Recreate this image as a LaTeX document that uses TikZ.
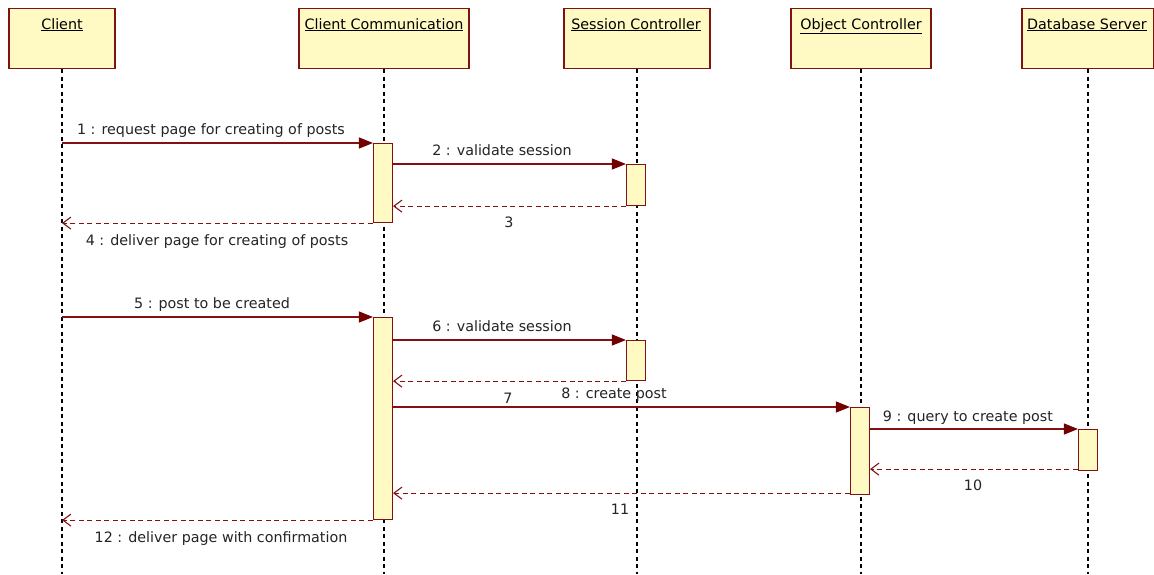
\documentclass[tikz,border=0pt]{standalone}
\usepackage{fontspec}
\setmainfont{DejaVu Sans}
\usetikzlibrary{arrows.meta}
\definecolor{maroon}{RGB}{128,18,18}
\definecolor{tipred}{RGB}{115,0,0}
\definecolor{boxfill}{RGB}{255,250,196}
\definecolor{txt}{RGB}{35,35,35}
\tikzset{
  head/.style={draw=maroon, fill=boxfill, line width=1.2pt, minimum height=60, anchor=north, inner sep=0},
  headtxt/.style={text=black, inner sep=0, anchor=base},
  lifeline/.style={black, line width=1.4pt, dash pattern=on 4pt off 3.5pt},
  act/.style={draw=maroon, fill=boxfill, line width=1.1pt, minimum width=19, anchor=north, inner sep=0},
  call/.style={maroon, line width=1.1pt, -{Triangle[length=14pt,width=11pt,color=tipred]}},
  ret/.style={maroon, line width=1.1pt, dash pattern=on 5pt off 3.5pt, -{Straight Barb[length=8pt,width=12pt]}},
  lbl/.style={text=txt, inner sep=0, anchor=base},
}
\begin{document}
\begin{tikzpicture}[x=1pt,y=-1pt, font=\fontsize{14.3}{17}\selectfont]
\useasboundingbox (0,0) rectangle (1154,574);
% heads
\node[head, minimum width=106] (client) at (62,8) {};
\node[head, minimum width=170] (cc) at (384,8) {};
\node[head, minimum width=146] (sc) at (637,8) {};
\node[head, minimum width=140] (oc) at (861,8) {};
\node[head, minimum width=132] (db) at (1088,8) {};
\node[headtxt] (clientT) at (62,29) {\underline{Client}};
\node[headtxt] (ccT) at (384,29) {\underline{Client Communication}};
\node[headtxt] (scT) at (636,29) {\underline{Session Controller}};
\node[headtxt] (ocT) at (861,29) {\underline{Object Controller}};
\node[headtxt] (dbT) at (1087,29) {\underline{Database Server}};
% lifeline ends
\coordinate (clientE) at (62,574);
\coordinate (ccE) at (384,574);
\coordinate (scE) at (637,574);
\coordinate (ocE) at (861,574);
\coordinate (dbE) at (1088,574);
\draw[lifeline] (client.south) -- (clientE);
\draw[lifeline] (cc.south) -- (ccE);
\draw[lifeline] (sc.south) -- (scE);
\draw[lifeline] (oc.south) -- (ocE);
\draw[lifeline] (db.south) -- (dbE);
% activations
\node[act, minimum height=79] (a1) at (383,143) {};
\node[act, minimum height=41] (s1) at (636,164) {};
\node[act, minimum height=202] (a2) at (383,317) {};
\node[act, minimum height=40] (s2) at (636,340) {};
\node[act, minimum height=87] (o1) at (860,407) {};
\node[act, minimum height=41] (d1) at (1088,429) {};
% client-side coordinates
\coordinate (c1) at (a1.north west -| clientE);
\coordinate (c4) at (a1.south west -| clientE);
\coordinate (c5) at (a2.north west -| clientE);
\coordinate (c12) at (a2.south west -| clientE);
\coordinate (r10) at ([yshift=2pt]d1.south west);
\coordinate (r11) at ([yshift=2pt]o1.south west);
% messages
\draw[call] (c1) -- (a1.north west);
\draw[call] (a1.east |- s1.north) -- (s1.north west);
\draw[ret] (s1.south west) -- (a1.east |- s1.south);
\draw[ret] (a1.south west) -- (c4);
\draw[call] (c5) -- (a2.north west);
\draw[call] (a2.east |- s2.north) -- (s2.north west);
\draw[ret] (s2.south west) -- (a2.east |- s2.south);
\draw[call] (a2.east |- o1.north) -- (o1.north west);
\draw[call] (o1.east |- d1.north) -- (d1.north west);
\draw[ret] (r10) -- (o1.east |- r10);
\draw[ret] (r11) -- (a2.east |- r11);
\draw[ret] (a2.south west) -- (c12);
% labels
\node[lbl] (l1) at (211,134.5) {1 : request page for creating of posts};
\node[lbl] (l2) at (502,155) {2 : validate session};
\node[lbl] (l3) at (509,227) {3};
\node[lbl] (l4) at (217,245) {4 : deliver page for creating of posts};
\node[lbl] (l5) at (212,308) {5 : post to be created};
\node[lbl] (l6) at (502,331.5) {6 : validate session};
\node[lbl] (l7) at (508,403) {7};
\node[lbl] (l8) at (614,398.5) {8 : create post};
\node[lbl] (l9) at (968,421) {9 : query to create post};
\node[lbl] (l10) at (973,490) {10};
\node[lbl] (l11) at (620,514) {11};
\node[lbl] (l12) at (221,542) {12 : deliver page with confirmation};
\end{tikzpicture}
\end{document}
